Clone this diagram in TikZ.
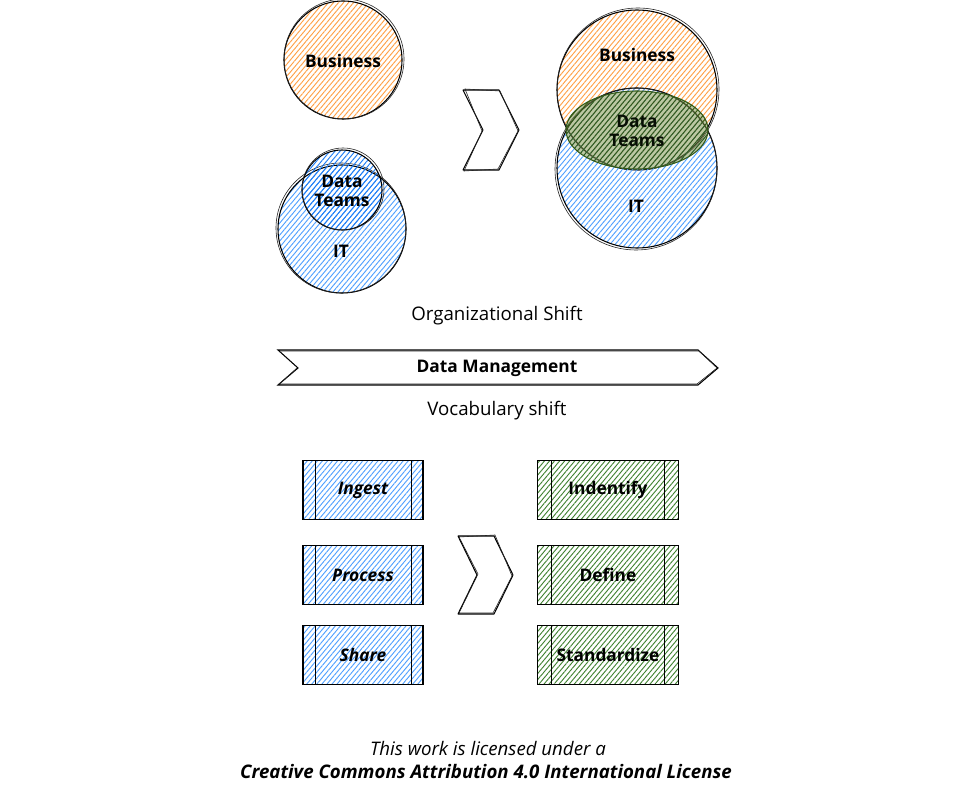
\documentclass[tikz,border=0pt]{standalone}
\usepackage{fontspec}
\setmainfont{Open Sans}
\usetikzlibrary{patterns.meta}

\definecolor{bizorange}{RGB}{255,160,70}
\definecolor{itblue}{RGB}{80,160,255}
\definecolor{teamblue}{RGB}{30,125,245}
\definecolor{teamgreen}{RGB}{50,90,25}
\definecolor{teamfill}{RGB}{120,145,70}
\definecolor{vocgreen}{RGB}{65,130,50}

\tikzset{
  sketch/.style={draw=black, line width=0.8pt},
  sketchthin/.style={draw=black!85, line width=0.45pt},
  hatch/.style={pattern={Lines[angle=50,distance=2.9pt,line width=0.7pt]}, pattern color=#1},
  lbl/.style={font=\fontsize{13pt}{14pt}\selectfont\bfseries, align=center, inner sep=1pt},
  caption/.style={font=\fontsize{14pt}{16pt}\selectfont, inner sep=1pt},
  procbox/.style={sketch, minimum width=#1, minimum height=44pt, inner sep=0pt,
    font=\fontsize{13pt}{14pt}\selectfont\bfseries},
  oldbox/.style={procbox=90pt, hatch=itblue, font=\fontsize{13pt}{14pt}\selectfont\bfseries\itshape,
    path picture={
      \draw[line width=0.7pt] ([xshift=9pt]path picture bounding box.north west) -- ([xshift=9pt]path picture bounding box.south west);
      \draw[line width=0.7pt] ([xshift=-9pt]path picture bounding box.north east) -- ([xshift=-9pt]path picture bounding box.south east);}},
  newbox/.style={procbox=106pt, hatch=vocgreen,
    path picture={
      \draw[line width=0.7pt] ([xshift=10.5pt]path picture bounding box.north west) -- ([xshift=10.5pt]path picture bounding box.south west);
      \draw[line width=0.7pt] ([xshift=-10.5pt]path picture bounding box.north east) -- ([xshift=-10.5pt]path picture bounding box.south east);}}
}

\begin{document}
\begin{tikzpicture}[x=0.75pt,y=0.75pt,yscale=-1,xscale=1]
\useasboundingbox (0,0) rectangle (970,791);

%Shape: Circle [business, before]
\draw[sketch, hatch=bizorange] (343,60) circle (59);
\draw[sketchthin] (344,59) circle (60);
%Shape: Circle [it, before]
\draw[sketch, hatch=itblue] (342,229) circle (64);
\draw[sketchthin] (341,228) circle (65);
%Shape: Circle [data teams, before]
\draw[sketch, hatch=teamblue] (342,190) circle (40);
\draw[sketchthin] (343,189) circle (41);

\node[lbl] (bizA) at (343,61) {Business};
\node[lbl] (teamsA) at (342,191) {Data\\Teams};
\node[lbl] (itA) at (341,251) {IT};

%Shape: Chevron [shift top]
\draw[sketch, line join=bevel] (463,90) -- (499,90) -- (519,130) -- (499,170) -- (463,170) -- (483,130) -- cycle;
\draw[sketchthin] (465,89) -- (500,91) -- (518,131) -- (498,169) -- (464,171) -- (482,131) -- cycle;

%Shape: Circle [business, after]
\draw[sketch, hatch=bizorange] (637,90) circle (80);
\draw[sketchthin] (638,89) circle (81);
%Shape: Circle [it, after]
\draw[sketch, hatch=itblue] (637,168) circle (80);
\draw[sketchthin] (636,169) circle (81);
%Shape: Ellipse [data teams, after]
\draw[draw=teamgreen, line width=0.8pt, preaction={fill=teamfill, fill opacity=0.5}, hatch=teamgreen] (637,130) ellipse (71 and 39);

\node[lbl] (bizB) at (637,55) {Business};
\node[lbl, text=black!85!teamgreen] (teamsB) at (637,131) {Data\\Teams};
\node[lbl] (itB) at (636,206) {IT};

\node[caption] (orgshift) at (497,316) {Organizational Shift};

%Shape: Banner [data management]
\draw[sketch] (278,350) -- (698,350) -- (718,368) -- (698,385) -- (278,385) -- (298,368) -- cycle;
\draw[sketchthin] (279,351) -- (699,351) -- (717,368) -- (697,384) -- (279,384) -- (297,368);
\node[lbl] (dm) at (497,368) {Data Management};

\node[caption] (vocshift) at (497,411) {Vocabulary shift};

%Process boxes [before]
\node[oldbox] (ingest) at (363,490) {Ingest};
\node[oldbox] (process) at (363,575) {Process};
\node[oldbox] (share) at (363,655) {Share};

%Shape: Chevron [shift bottom]
\draw[sketch, line join=bevel] (458,536) -- (494,536) -- (513,575) -- (494,614) -- (458,614) -- (477,575) -- cycle;
\draw[sketchthin] (459,537) -- (495,535) -- (512,576) -- (493,613) -- (459,613) -- (478,574) -- cycle;

%Process boxes [after]
\node[newbox] (identify) at (608,490) {Indentify};
\node[newbox] (define) at (608,575) {Define};
\node[newbox] (standardize) at (608,655) {Standardize};

\node[caption, font=\fontsize{14pt}{16pt}\selectfont\itshape] (licA) at (488,748) {This work is licensed under a};
\node[caption, font=\fontsize{14pt}{16pt}\selectfont\bfseries\itshape] (licB) at (486,772) {Creative Commons Attribution 4.0 International License};

\end{tikzpicture}
\end{document}
